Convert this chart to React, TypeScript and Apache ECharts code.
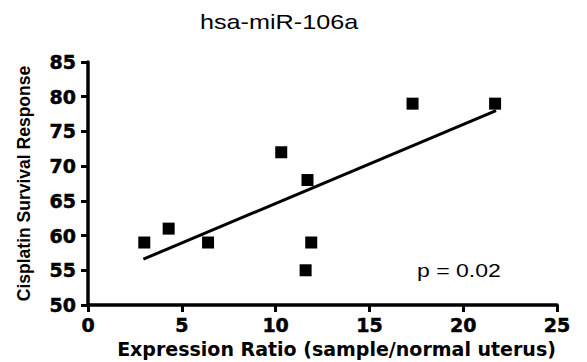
import React, { useEffect, useRef } from "react";
import * as echarts from "echarts";

const titleText = "hsa-miR-106a";
const xName = "Expression Ratio (sample/normal uterus)";
const yName = "Cisplatin Survival Response";
const xValues = [3.0, 4.3, 6.4, 10.3, 11.7, 11.9, 11.6, 17.3, 21.7];
const yValues = [59, 61, 59, 72, 68, 59, 55, 79, 79];
const fitLine = [
  [2.95, 56.6],
  [21.75, 78.0],
];
const pText = "p = 0.02";

const ARIAL = "Liberation Sans";
const WIDE = "DejaVu Sans";

export default function App() {
  const ref = useRef<HTMLDivElement>(null);
  useEffect(() => {
    if (!ref.current) return;
    const chart = echarts.init(ref.current, null, { renderer: "svg" });
    const axisLine = { show: true, lineStyle: { color: "#000", width: 3.5 } };
    const axisTick = { show: true, length: 7, lineStyle: { color: "#000", width: 3 } };
    const tickLabel = {
      show: true,
      color: "#000",
      fontSize: 19,
      fontWeight: "bold",
      fontFamily: WIDE,
      textBorderColor: "#000",
      textBorderWidth: 0.5,
    };
    chart.setOption({
      animation: false,
      backgroundColor: "#fff",
      grid: { left: 88, right: 30, top: 62, bottom: 57, outerBoundsMode: "none" },
      xAxis: {
        type: "value",
        min: 0,
        max: 25,
        interval: 5,
        name: xName,
        nameLocation: "middle",
        nameGap: 34,
        nameTextStyle: {
          color: "#000",
          fontSize: 19,
          fontWeight: "bold",
          fontFamily: WIDE,
          padding: [0, 0, 0, 28],
        },
        axisLine,
        axisTick,
        splitLine: { show: false },
        axisLabel: { ...tickLabel, margin: 10 },
      },
      yAxis: {
        type: "value",
        min: 50,
        max: 85,
        interval: 5,
        name: yName,
        nameLocation: "middle",
        nameGap: 55,
        nameTextStyle: { color: "#000", fontSize: 17.5, fontWeight: "bold", fontFamily: ARIAL },
        axisLine,
        axisTick,
        splitLine: { show: false },
        axisLabel: { ...tickLabel, margin: 12 },
      },
      graphic: [
        {
          type: "text",
          x: 200,
          y: 12,
          scaleX: 1.26,
          style: {
            text: titleText,
            fill: "#000",
            fontSize: 20,
            fontWeight: "normal",
            fontFamily: ARIAL,
            align: "left",
            verticalAlign: "top",
          },
        },
        {
          type: "text",
          x: 417,
          y: 261,
          scaleX: 1.28,
          style: {
            text: pText,
            fill: "#000",
            fontSize: 18,
            fontWeight: "normal",
            fontFamily: ARIAL,
            align: "left",
            verticalAlign: "top",
          },
        },
      ],
      series: [
        {
          type: "scatter",
          symbol: "rect",
          symbolSize: 12,
          itemStyle: { color: "#000", opacity: 1 },
          data: xValues.map((x, i) => [x, yValues[i]]),
        },
        {
          type: "line",
          data: fitLine,
          symbol: "none",
          lineStyle: { color: "#000", width: 3 },
        },
      ],
    });
    return () => chart.dispose();
  }, []);
  return (
    <div
      ref={ref}
      style={{ width: 587, height: 362, position: "absolute", left: 0, top: 0 }}
    />
  );
}
